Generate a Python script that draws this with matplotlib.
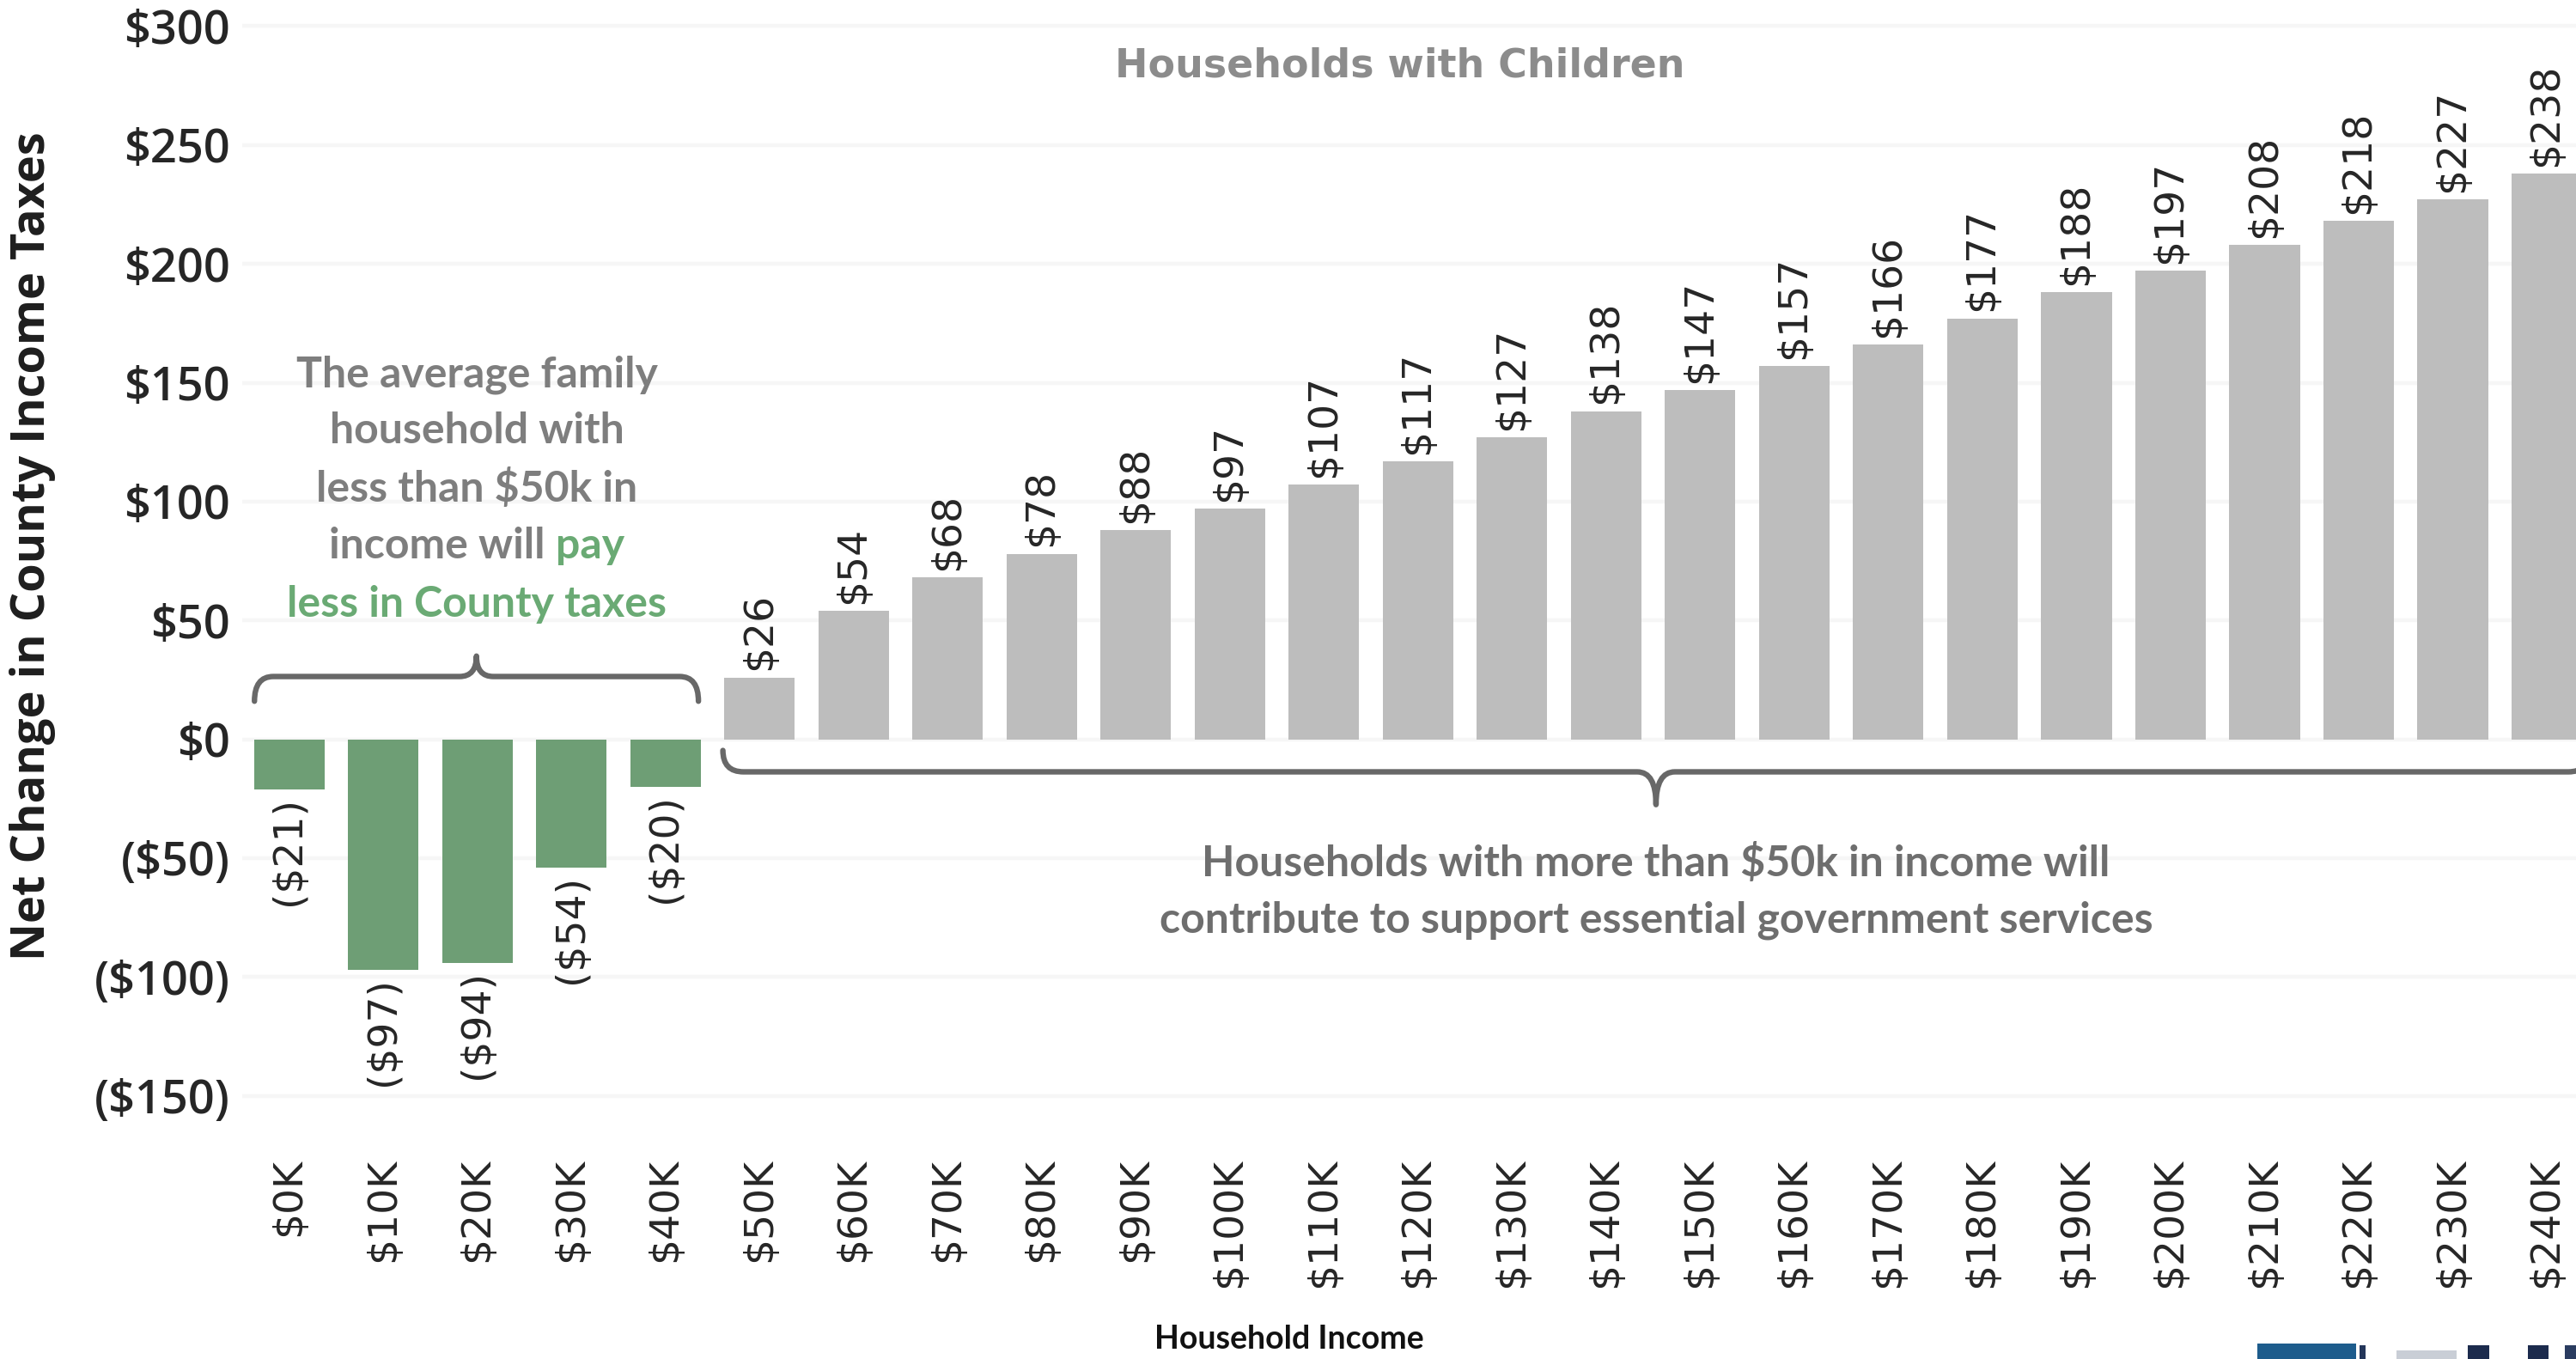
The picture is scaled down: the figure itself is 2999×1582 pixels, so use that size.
import matplotlib
matplotlib.use("Agg")
import matplotlib.pyplot as plt
from matplotlib.path import Path
from matplotlib.patches import PathPatch, Rectangle
import numpy as np

# ---------------- data ----------------
income_labels = ["$0K", "$10K", "$20K", "$30K", "$40K", "$50K", "$60K", "$70K",
                 "$80K", "$90K", "$100K", "$110K", "$120K", "$130K", "$140K",
                 "$150K", "$160K", "$170K", "$180K", "$190K", "$200K", "$210K",
                 "$220K", "$230K", "$240K"]
net_change = [-21, -97, -94, -54, -20, 26, 54, 68, 78, 88, 97, 107, 117, 127,
              138, 147, 157, 166, 177, 188, 197, 208, 218, 227, 238]
y_ticks = [-150, -100, -50, 0, 50, 100, 150, 200, 250, 300]

title_text = "Households with Children"
y_label = "Net Change in County Income Taxes"
x_label = "Household Income"
left_note = [[("The average family", "gray")],
             [("household with", "gray")],
             [("less than $50k in", "gray")],
             [("income will ", "gray"), ("pay", "green")],
             [("less in County taxes", "green")]]
right_note = ["Households with more than $50k in income will",
              "contribute to support essential government services"]

# ---------------- style ----------------
GREEN = "#6e9e75"
GRAY_BAR = "#bdbdbd"
NOTE_GRAY = "#7e7e7e"
NOTE_GREEN = "#6aaa74"
TXT = "#262626"

W, H = 2999, 1582
DPI = 200
fig = plt.figure(figsize=(W / DPI, H / DPI), dpi=DPI)
fig.patch.set_facecolor("white")

ax = fig.add_axes([282 / W, 1 - 1331 / H, 1 - 282 / W, 1331 / H])
x = np.arange(len(net_change))
colors = [GREEN if v < 0 else GRAY_BAR for v in net_change]
ax.bar(x, net_change, width=0.75, color=colors, zorder=2)

ax.set_xlim(-0.5, (W - 337) / 109.5)
ax.set_ylim(-170, 311)

for s in ax.spines.values():
    s.set_visible(False)
ax.set_yticks(y_ticks)
ax.set_yticklabels([f"${v}" if v >= 0 else f"(${-v})" for v in y_ticks],
                   fontsize=19.5, color=TXT, family="Open Sans", fontweight=600)
ax.set_xticks(x)
ax.set_xticklabels(income_labels, rotation=90, fontsize=17, color=TXT,
                   family="DejaVu Sans", va="top")
ax.tick_params(axis="both", length=0)
ax.tick_params(axis="y", pad=5)
ax.tick_params(axis="x", pad=6)
ax.grid(axis="y", color="#f6f6f6", linewidth=1.6, zorder=0)
ax.set_axisbelow(True)

# value labels
for xi, v in zip(x, net_change):
    if v >= 0:
        ax.text(xi, v + 3, f"${v}", rotation=90, ha="center", va="bottom",
                fontsize=17, color=TXT, family="DejaVu Sans", clip_on=False)
    else:
        ax.text(xi, v - 3, f"(${-v})", rotation=90, ha="center", va="top",
                fontsize=17, color=TXT, family="DejaVu Sans")

# braces
def brace(x0, x1, ye, yh, ytip, dx, dx2, color="#686868"):
    xm = (x0 + x1) / 2
    verts = [(x0, ye), (x0, yh), (x0 + dx, yh),
             (xm - dx2, yh),
             (xm, yh), (xm, ytip),
             (xm, yh), (xm + dx2, yh),
             (x1 - dx, yh),
             (x1, yh), (x1, ye)]
    codes = [Path.MOVETO, Path.CURVE3, Path.CURVE3,
             Path.LINETO,
             Path.CURVE3, Path.CURVE3,
             Path.CURVE3, Path.CURVE3,
             Path.LINETO,
             Path.CURVE3, Path.CURVE3]
    ax.add_patch(PathPatch(Path(verts, codes), facecolor="none", edgecolor=color,
                           linewidth=2.3, capstyle="round", joinstyle="round",
                           zorder=3, clip_on=False))

brace(-0.37, 4.35, 16.0, 26.4, 35.0, 0.2, 0.18)
brace(4.61, 24.45, -4.7, -13.7, -27.5, 0.22, 0.2)

# title
fig.text(1630 / W, 1 - 77 / H, title_text, ha="center", va="center",
         fontsize=16.5, fontweight="bold", color="#8c8c8c", family="DejaVu Sans")

# axis labels
fig.text(38 / W, 1 - 636 / H, y_label, rotation=90, ha="center", va="center",
         fontsize=19.5, fontweight="bold", color="#1e1e1e", family="Open Sans")
fig.text(1501 / W, 1 - 1559 / H, x_label, ha="center", va="center",
         fontsize=13.5, fontweight="bold", color="#111111", family="Lato")

# notes
renderer = fig.canvas.get_renderer()
note_kw = dict(fontsize=18, fontweight="bold", family="Lato")
cmap = {"gray": NOTE_GRAY, "green": NOTE_GREEN}
left_y = [436, 501, 568, 635, 704]
for line, yy in zip(left_note, left_y):
    yf = 1 - yy / H
    if len(line) == 1:
        fig.text(555 / W, yf, line[0][0], ha="center", va="center",
                 color=cmap[line[0][1]], **note_kw)
    else:
        full = "".join(p for p, _ in line)
        tmp = fig.text(555 / W, yf, full, ha="center", va="center", **note_kw)
        bb = tmp.get_window_extent(renderer)
        tmp.remove()
        fig.text(bb.x0 / W, yf, line[0][0], ha="left", va="center",
                 color=cmap[line[0][1]], **note_kw)
        fig.text(bb.x1 / W, yf, line[1][0], ha="right", va="center",
                 color=cmap[line[1][1]], **note_kw)

for line, yy in zip(right_note, [1004, 1071]):
    fig.text(1928 / W, 1 - yy / H, line, ha="center", va="center",
             color="#6e6e6e", **note_kw)

# partial logo strip at bottom right
def frect(x0, x1, y0, y1, c):
    fig.patches.append(Rectangle((x0 / W, 1 - y1 / H), (x1 - x0) / W, (y1 - y0) / H,
                                 transform=fig.transFigure, facecolor=c,
                                 edgecolor="none"))

frect(2628, 2743, 1564, 1582, "#1d5c8c")
frect(2747, 2754, 1566, 1582, "#24365a")
frect(2790, 2860, 1572, 1582, "#c9ced6")
frect(2873, 2898, 1566, 1582, "#1c2b4d")
frect(2943, 2967, 1566, 1582, "#1c2b4d")
frect(2986, 2999, 1566, 1582, "#2a3c60")

fig.savefig("out.png", dpi=DPI, facecolor="white")
